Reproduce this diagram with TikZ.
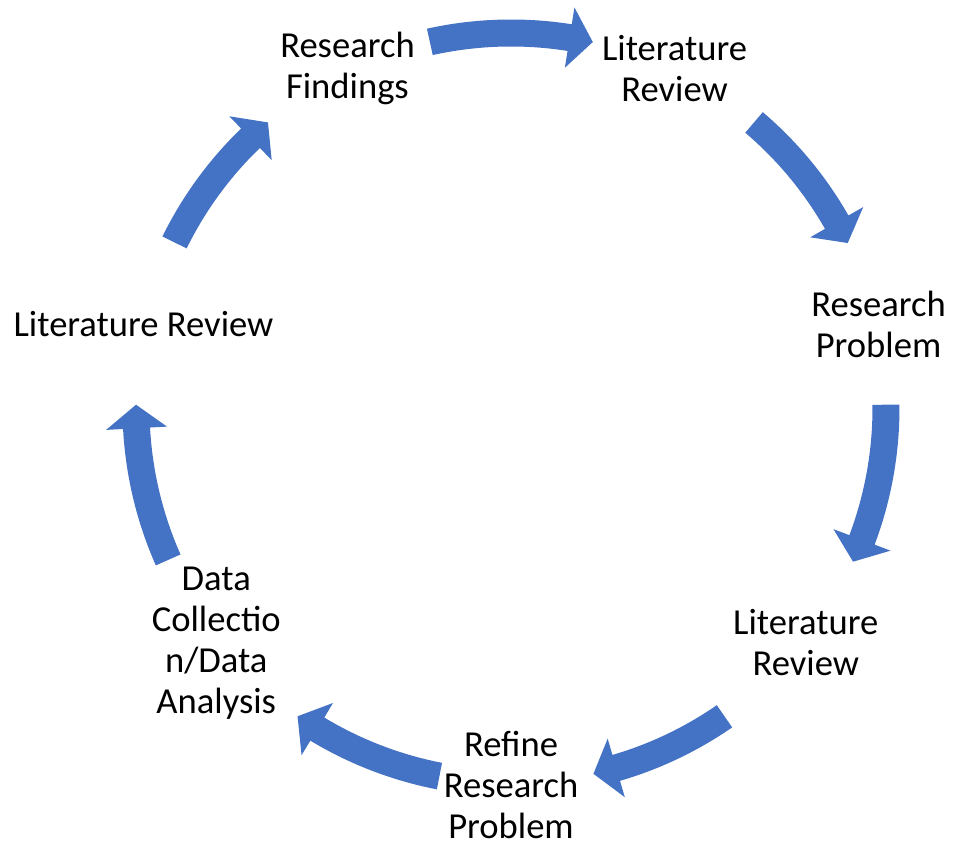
\documentclass[tikz,border=0pt]{standalone}
\usepackage{fontspec}
\setmainfont{Carlito}
\definecolor{arrowblue}{HTML}{4472C4}
\begin{document}
\begin{tikzpicture}[x=1pt,y=1pt,
  steplabel/.style={align=center,font=\fontsize{36.6}{41}\selectfont,inner sep=0pt,text=black},
  cyclearrow/.style={fill=arrowblue}]
\useasboundingbox (0,0) rectangle (954,845);
\coordinate (c) at (511,437);

% stage labels placed round the cycle
\node[steplabel] (n1) at ([shift={(115.71:377)}]c) {Research\\Findings};
\node[steplabel] (n2) at ([shift={(64.29:377)}]c) {Literature\\Review};
\node[steplabel] (n3) at ([shift={(12.86:377)}]c) {Research\\Problem};
\node[steplabel] (n4) at ([shift={(-38.57:377)}]c) {Literature\\Review};
\node[steplabel] (n5) at ([shift={(-90:377)}]c) {Refine\\Research\\Problem};
\node[steplabel] (n6) at ([shift={(-141.43:377)}]c) {Data\\Collectio\\n/Data\\Analysis};
\node[steplabel] (n7) at ([shift={(167.14:377)}]c) {Literature Review};

% curved block arrows between consecutive stages (clockwise):
% tail angle / tip angle on a circle of radius 375 about the centre
\foreach \a/\t in {102.5/77.4, 49.6/26.1, 0.5/-24.2, -55.3/-77.3,
                   -101/-124.7, -156.1/-180.5, 153.8/130.4}{
  \pgfmathsetmacro\h{\t+3.6}
  \fill[cyclearrow,shift={(c)}]
    (\a:388.5) arc[start angle=\a,end angle=\h,radius=388.5]
    -- (\h:405.5) -- (\t:375) -- (\h:344.5) -- (\h:361.5)
    arc[start angle=\h,end angle=\a,radius=361.5] -- cycle;
}
\end{tikzpicture}
\end{document}
